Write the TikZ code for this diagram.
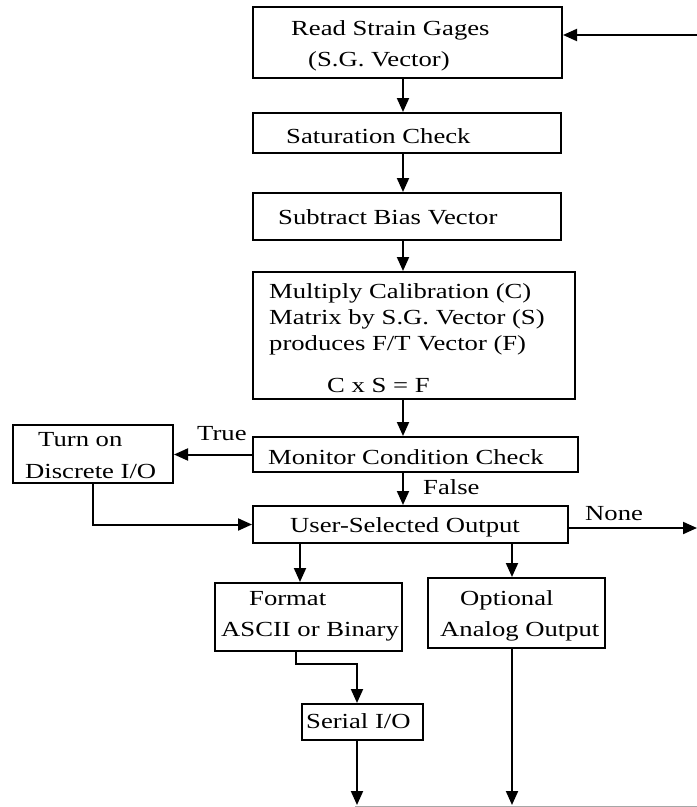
\documentclass[tikz,border=0pt]{standalone}
\usepackage{fontspec}
\setmainfont[FakeStretch=1.24]{Liberation Serif}
\usetikzlibrary{arrows.meta}
\begin{document}
\begin{tikzpicture}[x=1pt,y=-1pt,
  box/.style={draw,line width=2pt,inner sep=0pt,rectangle},
  conn/.style={line width=2pt,-{Triangle[length=14pt,width=12pt]}},
  txt/.style={anchor=base west,inner sep=0pt,font=\fontsize{21.5}{26}\selectfont}]
\useasboundingbox (0,0) rectangle (697,807);
% boxes
\node[box,minimum width=309pt,minimum height=71pt] (b1) at (407.5,42.5) {};
\node[box,minimum width=308pt,minimum height=40pt] (b2) at (407,133) {};
\node[box,minimum width=308pt,minimum height=47pt] (b3) at (407,216.5) {};
\node[box,minimum width=322pt,minimum height=127pt] (b4) at (414,335.5) {};
\node[box,minimum width=325pt,minimum height=35pt] (b5) at (415.5,454.5) {};
\node[box,minimum width=160pt,minimum height=58pt] (tur) at (93,454) {};
\node[box,minimum width=315pt,minimum height=37pt] (b6) at (410.5,524.5) {};
\node[box,minimum width=187pt,minimum height=68pt] (fmt) at (308.5,617) {};
\node[box,minimum width=177pt,minimum height=70pt] (opt) at (516.5,613) {};
\node[box,minimum width=121pt,minimum height=36pt] (ser) at (362.5,722) {};
% texts
\node[txt] (t1a) at (291,35) {Read Strain Gages};
\node[txt] (t1b) at (308,66) {(S.G. Vector)};
\node[txt] (t2) at (286,143) {Saturation Check};
\node[txt] (t3) at (278,224) {Subtract Bias Vector};
\node[txt] (t4a) at (269,298) {Multiply Calibration (C)};
\node[txt] (t4b) at (269,324) {Matrix by S.G. Vector (S)};
\node[txt] (t4c) at (269,350) {produces F/T Vector (F)};
\node[txt] (t4d) at (327,392) {C x S = F};
\node[txt] (t5) at (268,464) {Monitor Condition Check};
\node[txt] (tta) at (38,446) {Turn on};
\node[txt] (ttb) at (25,478) {Discrete I/O};
\node[txt] (ltrue) at (197,440) {True};
\node[txt] (lfalse) at (423,494) {False};
\node[txt] (t6) at (290,532) {User-Selected Output};
\node[txt] (lnone) at (585,520) {None};
\node[txt] (tfa) at (249,605) {Format};
\node[txt] (tfb) at (221,636) {ASCII or Binary};
\node[txt] (toa) at (460,605) {Optional};
\node[txt] (tob) at (440,636) {Analog Output};
\node[txt] (ts) at (306,728) {Serial I/O};
% coordinates
\coordinate (sp) at (403,0);
\coordinate (fb) at (697,35);
\coordinate (ne) at (697,528);
\coordinate (lf) at (300,0);
\coordinate (rt) at (512,0);
\coordinate (k1) at (296,664);
\coordinate (k2) at (357,664);
\coordinate (bot1) at (357,805);
\coordinate (bot2) at (512,805);
\coordinate (g1) at (355,806);
\coordinate (g2) at (697,806);
% connectors
\draw[conn] (fb) -- (fb -| b1.east);
\draw[conn] (b1.south -| sp) -- (b2.north -| sp);
\draw[conn] (b2.south -| sp) -- (b3.north -| sp);
\draw[conn] (b3.south -| sp) -- (b4.north -| sp);
\draw[conn] (b4.south -| sp) -- (b5.north -| sp);
\draw[conn] (b5.south -| sp) -- (b6.north -| sp);
\draw[conn] (b5.west) -- (b5.west -| tur.east);
\draw[conn] (tur.south) |- (b6.west);
\draw[conn] (ne -| b6.east) -- (ne);
\draw[conn] (b6.south -| lf) -- (fmt.north -| lf);
\draw[conn] (b6.south -| rt) -- (opt.north -| rt);
\draw[conn] (fmt.south -| k1) -- (k1) -- (k2) -- (ser.north -| k2);
\draw[conn] (ser.south -| k2) -- (bot1);
\draw[conn] (opt.south -| rt) -- (bot2);
\draw[line width=0.8pt,gray!70] (g1) -- (g2);
\end{tikzpicture}
\end{document}
